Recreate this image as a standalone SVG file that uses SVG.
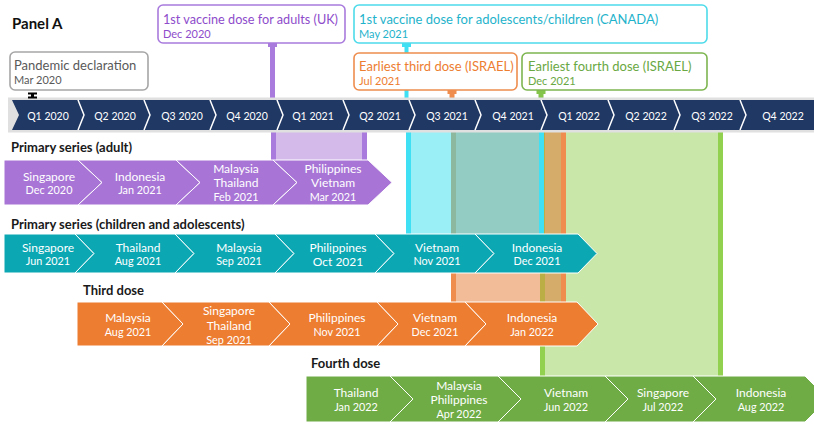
<svg xmlns="http://www.w3.org/2000/svg" width="814" height="425" viewBox="0 0 814 425">
<style>
text{font-family:Lato,"Liberation Sans",sans-serif}
.h{font-weight:bold;font-size:13px;fill:#1a1a1a}
.q{font-size:10.5px;fill:#fff;text-anchor:middle}
.c{font-size:12px;fill:#fff;text-anchor:middle}
.d{font-size:10.8px;fill:#fff;text-anchor:middle}
.ct{font-size:13px}
.cd{font-size:11px}
.box{fill:#fff;stroke-width:1.6}
.seg{stroke:#fff;stroke-width:1}
.sep{fill:none;stroke:#fff;stroke-width:1.5}
</style>
<rect width="814" height="425" fill="#fff"/>
<text x="12" y="29" style="font-weight:bold;font-size:15px;fill:#111">Panel A</text>

<!-- shaded periods -->
<g id="periods">
  <rect x="271" y="131" width="96" height="29" fill="#D3BAEB"/>
  <rect x="271" y="131" width="5" height="29" fill="#A97BDD"/>
  <rect x="362" y="131" width="5" height="29" fill="#A97BDD"/>

  <rect x="540" y="131" width="183" height="245" fill="#C9E7A8"/>
  <rect x="540" y="131" width="5" height="245" fill="#92D050"/>
  <rect x="718" y="131" width="5" height="245" fill="#92D050"/>

  <rect x="451" y="131" width="115" height="171" fill="#F2BC98"/>
  <rect x="545" y="131" width="16" height="171" fill="#D5AC69"/>
  <rect x="540" y="131" width="5" height="171" fill="#BAAE45"/>
  <rect x="451" y="131" width="5" height="171" fill="#EE8D4E"/>
  <rect x="561" y="131" width="5" height="171" fill="#EE8D4E"/>

  <rect x="406" y="131" width="138" height="103" fill="#9AEEF6"/>
  <rect x="456" y="131" width="83" height="103" fill="#93CCC3"/>
  <rect x="451" y="131" width="5" height="103" fill="#8DB8A0"/>
  <rect x="406" y="131" width="5" height="103" fill="#40E0F4"/>
  <rect x="539" y="131" width="5" height="103" fill="#40E0F4"/>
</g>

<!-- connectors (stems) -->
<g id="connectors">
  <rect x="270" y="43" width="5" height="57" fill="#A97BDD"/>
  <rect x="268" y="43" width="9" height="4" fill="#A97BDD"/>
  <rect x="404.5" y="43" width="4" height="57" fill="#40E0F4"/>
  <rect x="402" y="43" width="9" height="4" fill="#40E0F4"/>
  <rect x="449.5" y="90" width="5" height="10" fill="#EE8D4E"/>
  <rect x="447.5" y="90" width="9" height="4" fill="#EE8D4E"/>
  <rect x="538.5" y="90" width="5" height="10" fill="#84C44B"/>
  <rect x="536.5" y="90" width="9" height="4" fill="#84C44B"/>
</g>

<!-- callouts -->
<g id="callout-pandemic">
  <rect class="box" x="10" y="52" width="138" height="38" rx="5" stroke="#A6A6A6"/>
  <text class="ct" x="14" y="69.5" fill="#595959">Pandemic declaration</text>
  <text class="cd" x="14" y="84" fill="#595959">Mar 2020</text>
</g>
<g id="callout-adults-uk">
  <rect class="box" x="158" y="5" width="187" height="38" rx="5" stroke="#A97BDD"/>
  <text class="ct" x="163" y="23.5" fill="#8E4CCB" textLength="175" lengthAdjust="spacingAndGlyphs" style="font-size:14px">1st vaccine dose for adults (UK)</text>
  <text class="cd" x="163" y="38" fill="#8E4CCB">Dec 2020</text>
</g>
<g id="callout-children-canada">
  <rect class="box" x="354" y="5" width="353" height="38" rx="5" stroke="#4DDBEA"/>
  <text class="ct" x="359" y="23.5" fill="#1FB3CB">1st vaccine dose for adolescents/children (CANADA)</text>
  <text class="cd" x="359" y="38" fill="#1FB3CB">May 2021</text>
</g>
<g id="callout-third-israel">
  <rect class="box" x="354" y="53" width="163" height="37" rx="5" stroke="#EE8D4E"/>
  <text class="ct" x="359" y="70.5" fill="#ED7D31">Earliest third dose (ISRAEL)</text>
  <text class="cd" x="359" y="84.5" fill="#ED7D31">Jul 2021</text>
</g>
<g id="callout-fourth-israel">
  <rect class="box" x="522" y="53" width="185" height="37" rx="5" stroke="#7DB54F"/>
  <text class="ct" x="528" y="70.5" fill="#6AA843">Earliest fourth dose (ISRAEL)</text>
  <text class="cd" x="528" y="84.5" fill="#6AA843">Dec 2021</text>
</g>

<!-- timeline -->
<g id="timeline">
  <rect x="8" y="97.5" width="806" height="35" fill="#E0E0E0"/>
  <polygon points="12,100 814,100 814,130 12,130 19,115" fill="#203864"/>
  <polyline class="sep" points="78,100 84,115 78,130"/>
  <polyline class="sep" points="144,100 150,115 144,130"/>
  <polyline class="sep" points="210,100 216,115 210,130"/>
  <polyline class="sep" points="277,100 283,115 277,130"/>
  <polyline class="sep" points="343,100 349,115 343,130"/>
  <polyline class="sep" points="409,100 415,115 409,130"/>
  <polyline class="sep" points="475,100 481,115 475,130"/>
  <polyline class="sep" points="541,100 547,115 541,130"/>
  <polyline class="sep" points="608,100 614,115 608,130"/>
  <polyline class="sep" points="674,100 680,115 674,130"/>
  <polyline class="sep" points="740,100 746,115 740,130"/>
  <text class="q" x="48" y="120">Q1 2020</text>
  <text class="q" x="115" y="120">Q2 2020</text>
  <text class="q" x="182" y="120">Q3 2020</text>
  <text class="q" x="247" y="120">Q4 2020</text>
  <text class="q" x="313" y="120">Q1 2021</text>
  <text class="q" x="380" y="120">Q2 2021</text>
  <text class="q" x="447" y="120">Q3 2021</text>
  <text class="q" x="513" y="120">Q4 2021</text>
  <text class="q" x="579" y="120">Q1 2022</text>
  <text class="q" x="646" y="120">Q2 2022</text>
  <text class="q" x="712" y="120">Q3 2022</text>
  <text class="q" x="783" y="120">Q4 2022</text>
</g>
<path id="pandemic-marker" d="M28,92.5H37V94.5H34V96.5H37V98.5H28V96.5H31V94.5H28Z" fill="#000"/>

<!-- Primary series adult -->
<text class="h" x="11" y="152">Primary series (adult)</text>
<g id="adult" fill="#A875D6">
  <polygon class="seg" points="4,160 78,160 102,182.5 78,205 4,205"/>
  <polygon class="seg" points="78,160 176,160 200,182.5 176,205 78,205 102,182.5"/>
  <polygon class="seg" points="176,160 273,160 297,182.5 273,205 176,205 200,182.5"/>
  <polygon class="seg" points="273,160 368,160 392,182.5 368,205 273,205 297,182.5"/>
  <text class="c" x="49" y="181">Singapore</text><text class="d" x="49" y="194">Dec 2020</text>
  <text class="c" x="140" y="181">Indonesia</text><text class="d" x="140" y="194">Jan 2021</text>
  <text class="c" x="236" y="173">Malaysia</text><text class="c" x="236" y="187">Thailand</text><text class="d" x="236" y="200.5">Feb 2021</text>
  <text class="c" x="333" y="173">Philippines</text><text class="c" x="333" y="187">Vietnam</text><text class="d" x="333" y="200.5">Mar 2021</text>
</g>

<!-- Primary series children -->
<text class="h" x="11" y="229">Primary series (children and adolescents)</text>
<g id="children" fill="#0BA8B4">
  <polygon class="seg" points="4,234 75,234 94,253.5 75,273 4,273"/>
  <polygon class="seg" points="75,234 175,234 194,253.5 175,273 75,273 94,253.5"/>
  <polygon class="seg" points="175,234 275,234 294,253.5 275,273 175,273 194,253.5"/>
  <polygon class="seg" points="275,234 375,234 394,253.5 375,273 275,273 294,253.5"/>
  <polygon class="seg" points="375,234 475,234 494,253.5 475,273 375,273 394,253.5"/>
  <polygon class="seg" points="475,234 578,234 597,253.5 578,273 475,273 494,253.5"/>
  <text class="c" x="48" y="252">Singapore</text><text class="d" x="48" y="265">Jun 2021</text>
  <text class="c" x="138" y="252">Thailand</text><text class="d" x="138" y="265">Aug 2021</text>
  <text class="c" x="239" y="252">Malaysia</text><text class="d" x="239" y="265">Sep 2021</text>
  <text class="c" x="338" y="252">Philippines</text><text class="d" x="338" y="265.5" style="font-size:12px">Oct 2021</text>
  <text class="c" x="437" y="252">Vietnam</text><text class="d" x="437" y="265">Nov 2021</text>
  <text class="c" x="537" y="252">Indonesia</text><text class="d" x="537" y="265">Dec 2021</text>
</g>

<!-- Third dose -->
<text class="h" x="83" y="295">Third dose</text>
<g id="third" fill="#ED7D31">
  <polygon class="seg" points="77,302 162,302 183,324 162,346 77,346"/>
  <polygon class="seg" points="162,302 269,302 290,324 269,346 162,346 183,324"/>
  <polygon class="seg" points="269,302 377,302 398,324 377,346 269,346 290,324"/>
  <polygon class="seg" points="377,302 465,302 486,324 465,346 377,346 398,324"/>
  <polygon class="seg" points="465,302 577,302 598,324 577,346 465,346 486,324"/>
  <text class="c" x="128" y="322">Malaysia</text><text class="d" x="128" y="336">Aug 2021</text>
  <text class="c" x="229" y="315">Singapore</text><text class="c" x="229" y="330">Thailand</text><text class="d" x="229" y="344">Sep 2021</text>
  <text class="c" x="337" y="322">Philippines</text><text class="d" x="337" y="336">Nov 2021</text>
  <text class="c" x="435" y="322">Vietnam</text><text class="d" x="435" y="336">Dec 2021</text>
  <text class="c" x="532" y="322">Indonesia</text><text class="d" x="532" y="336">Jan 2022</text>
</g>

<!-- Fourth dose -->
<text class="h" x="311" y="368">Fourth dose</text>
<g id="fourth" fill="#6FAC46">
  <polygon class="seg" points="306,376 390,376 413,399 390,422 306,422"/>
  <polygon class="seg" points="390,376 498,376 521,399 498,422 390,422 413,399"/>
  <polygon class="seg" points="498,376 605,376 628,399 605,422 498,422 521,399"/>
  <polygon class="seg" points="605,376 693,376 716,399 693,422 605,422 628,399"/>
  <polygon class="seg" points="693,376 805,376 828,399 805,422 693,422 716,399"/>
  <text class="c" x="356" y="397">Thailand</text><text class="d" x="356" y="411">Jan 2022</text>
  <text class="c" x="459" y="390">Malaysia</text><text class="c" x="459" y="404">Philippines</text><text class="d" x="459" y="418">Apr 2022</text>
  <text class="c" x="566" y="397">Vietnam</text><text class="d" x="566" y="411">Jun 2022</text>
  <text class="c" x="663" y="397">Singapore</text><text class="d" x="663" y="411">Jul 2022</text>
  <text class="c" x="761" y="397">Indonesia</text><text class="d" x="761" y="411">Aug 2022</text>
</g>
</svg>
